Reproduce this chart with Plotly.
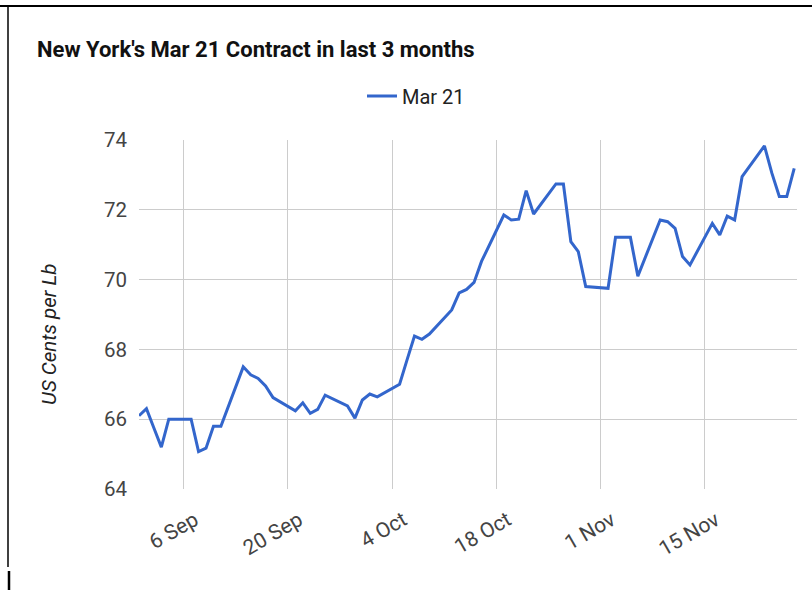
import plotly.graph_objects as go

dates = [
    "2020-08-31", "2020-09-01", "2020-09-02", "2020-09-03", "2020-09-04",
    "2020-09-07", "2020-09-08", "2020-09-09", "2020-09-10", "2020-09-11",
    "2020-09-14", "2020-09-15", "2020-09-16", "2020-09-17", "2020-09-18",
    "2020-09-21", "2020-09-22", "2020-09-23", "2020-09-24", "2020-09-25",
    "2020-09-28", "2020-09-29", "2020-09-30", "2020-10-01", "2020-10-02",
    "2020-10-05", "2020-10-06", "2020-10-07", "2020-10-08", "2020-10-09",
    "2020-10-12", "2020-10-13", "2020-10-14", "2020-10-15", "2020-10-16",
    "2020-10-19", "2020-10-20", "2020-10-21", "2020-10-22", "2020-10-23",
    "2020-10-26", "2020-10-27", "2020-10-28", "2020-10-29", "2020-10-30",
    "2020-11-02", "2020-11-03", "2020-11-04", "2020-11-05", "2020-11-06",
    "2020-11-09", "2020-11-10", "2020-11-11", "2020-11-12", "2020-11-13",
    "2020-11-16", "2020-11-17", "2020-11-18", "2020-11-19", "2020-11-20",
    "2020-11-23", "2020-11-24", "2020-11-25", "2020-11-26", "2020-11-27",
]
mar21 = [
    66.10, 66.30, 65.75, 65.20, 66.00,
    66.00, 65.07, 65.17, 65.80, 65.80,
    67.50, 67.27, 67.17, 66.95, 66.62,
    66.24, 66.47, 66.17, 66.28, 66.69,
    66.38, 66.03, 66.55, 66.72, 66.64,
    67.00, 67.70, 68.38, 68.29, 68.44,
    69.13, 69.62, 69.72, 69.92, 70.52,
    71.85, 71.71, 71.73, 72.55, 71.88,
    72.74, 72.74, 71.09, 70.80, 69.80,
    69.75, 71.21, 71.21, 71.21, 70.10,
    71.71, 71.66, 71.47, 70.66, 70.42,
    71.61, 71.28, 71.82, 71.71, 72.95,
    73.83, 73.05, 72.38, 72.38, 73.19,
]

tick_dates = ["2020-09-06", "2020-09-20", "2020-10-04", "2020-10-18", "2020-11-01", "2020-11-15"]
tick_labels = ["6 Sep", "20 Sep", "4 Oct", "18 Oct", "1 Nov", "15 Nov"]
y_ticks = [64, 66, 68, 70, 72, 74]

title_text = "New York's Mar 21 Contract in last 3 months"
series_name = "Mar 21"
y_title = "US Cents per Lb"

W, H = 812, 590
L, R, T, B = 139, 15, 140, 101

fig = go.Figure()
fig.add_trace(go.Scatter(
    x=dates, y=mar21, mode="lines", name=series_name,
    line=dict(color="#3366CC", width=3),
))

pw = W - L - R
ph = H - T - B
def px2paper_x(px):
    return (px - L) / pw
def px2paper_y(py):
    return (H - B - py) / ph

FONT = "Roboto, Arial, sans-serif"

fig.update_layout(
    width=W, height=H,
    margin=dict(l=L, r=R, t=T, b=B, pad=0),
    paper_bgcolor="white", plot_bgcolor="white",
    font=dict(family=FONT, color="#444"),
    title=dict(text="<b>" + title_text + "</b>", x=37 / W, xref="container",
               xanchor="left", y=1 - 49 / H, yref="container", yanchor="middle",
               font=dict(size=22, color="#111", family=FONT)),
    showlegend=True,
    legend=dict(orientation="h", x=362 / W, xanchor="left", xref="container",
                y=1 - 96 / H, yref="container", yanchor="middle",
                font=dict(size=20, color="#222"), itemwidth=30),
    xaxis=dict(
        range=["2020-08-31", "2020-11-27 09:00"], tickvals=tick_dates, ticktext=tick_labels,
        tickangle=-30, showgrid=True, gridcolor="#cccccc", gridwidth=1,
        zeroline=False, showline=False, ticks="", tickfont=dict(size=21, color="#444"),
        ticklabelshift=11, ticklabelstandoff=14,
    ),
    yaxis=dict(
        range=[64, 74], tickvals=y_ticks, showgrid=True, gridcolor="#cccccc",
        gridwidth=1, zeroline=False, showline=False, ticks="",
        tickfont=dict(size=20.5, color="#444"), ticklabelstandoff=11,
    ),
    annotations=[dict(
        text="<i>" + y_title + "</i>", xref="paper", yref="paper",
        x=px2paper_x(49), y=px2paper_y(335), textangle=-90,
        showarrow=False, font=dict(size=20.5, color="#222"),
        xanchor="center", yanchor="middle",
    )],
    shapes=[
        dict(type="line", xref="paper", yref="paper",
             x0=px2paper_x(0), x1=px2paper_x(812), y0=px2paper_y(6), y1=px2paper_y(6),
             line=dict(color="black", width=2)),
        dict(type="line", xref="paper", yref="paper",
             x0=px2paper_x(8), x1=px2paper_x(8), y0=px2paper_y(5), y1=px2paper_y(567),
             line=dict(color="black", width=1.5)),
        dict(type="line", xref="paper", yref="paper",
             x0=px2paper_x(9), x1=px2paper_x(9), y0=px2paper_y(571), y1=px2paper_y(590),
             line=dict(color="black", width=2.5)),
    ],
)

fig.write_html("out.html", config={"displayModeBar": False},
               post_script="document.body.style.margin='0px';")
